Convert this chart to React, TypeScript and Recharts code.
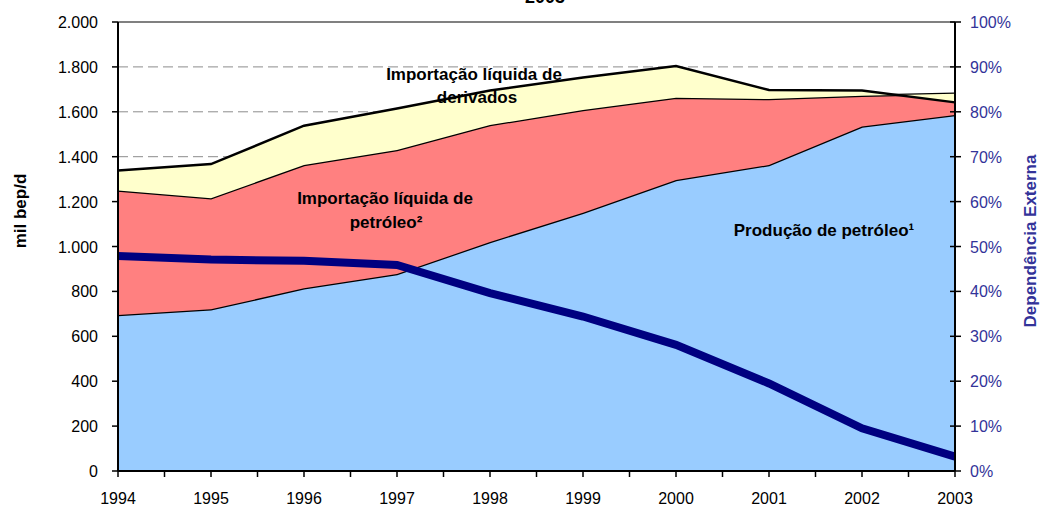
import React from 'react'
import { ComposedChart, Area, Line, XAxis, YAxis, CartesianGrid, ReferenceLine } from 'recharts'

// mil bep/d
const anos = [1994, 1995, 1996, 1997, 1998, 1999, 2000, 2001, 2002, 2003]
const producao = [695, 720, 814, 877, 1020, 1150, 1296, 1363, 1534, 1586]
const importPetroleo = [554, 495, 549, 553, 521, 458, 367, 294, 138, 94]
const importDerivados = [89, 152, 175, 185, 154, 145, 141, 40, 23, -38]
// % dependência externa
const dependencia = [47.9, 47.1, 46.8, 45.9, 39.6, 34.4, 28.1, 19.5, 9.5, 3.2]

const ticksEsq = [0, 200, 400, 600, 800, 1000, 1200, 1400, 1600, 1800, 2000]
const ticksDir = [0, 10, 20, 30, 40, 50, 60, 70, 80, 90, 100]
const ticksX = [1994, 1994.5, 1995, 1995.5, 1996, 1996.5, 1997, 1997.5, 1998, 1998.5, 1999, 1999.5, 2000, 2000.5, 2001, 2001.5, 2002, 2002.5, 2003]

const FONTE = '"Liberation Sans", Arial, sans-serif'
const AZUL_EIXO = '#333399'

const fmtMil = (v: number) => (v >= 1000 ? `${Math.floor(v / 1000)}.${String(v % 1000).padStart(3, '0')}` : String(v))

const data = anos.map((ano, i) => ({
  ano,
  producao: producao[i],
  petroleo: importPetroleo[i],
  derivados: importDerivados[i],
  dep: dependencia[i],
}))

const TickEsq = ({ x, y, payload }: any) => (
  <g>
    <line x1={x - 6} x2={x} y1={y} y2={y} stroke="#000" strokeWidth={1.5} />
    <text x={x - 20} y={y + 6} textAnchor="end" fontSize={16} fontFamily={FONTE} fill="#000">
      {fmtMil(payload.value)}
    </text>
  </g>
)

const TickDir = ({ x, y, payload }: any) => (
  <g>
    <line x1={x - 5} x2={x + 6} y1={y} y2={y} stroke="#000" strokeWidth={1.5} />
    <text x={x + 15} y={y + 6} textAnchor="start" fontSize={16} fontFamily={FONTE} fill={AZUL_EIXO}>
      {payload.value}%
    </text>
  </g>
)

const TickX = ({ x, y, payload }: any) => (
  <g>
    <line x1={x} x2={x} y1={y} y2={y + 6} stroke="#000" strokeWidth={1.5} />
    {Number.isInteger(payload.value) && (
      <text x={x} y={y + 33} textAnchor="middle" fontSize={16} fontFamily={FONTE} fill="#000">
        {payload.value}
      </text>
    )}
  </g>
)

export default function App() {
  return (
    <div style={{ position: 'fixed', left: 0, top: 0, width: 1043, height: 507, background: '#fff' }}>
      <ComposedChart width={1043} height={507} data={data} margin={{ top: 22, right: 28, left: 58, bottom: 6 }}>
        <CartesianGrid yAxisId="esq" vertical={false} stroke="#8c8c8c" strokeDasharray="10 5" />
        <XAxis
          dataKey="ano"
          type="number"
          domain={[1994, 2003]}
          ticks={ticksX}
          interval={0}
          height={30}
          tickSize={0}
          tickMargin={0}
          tick={<TickX />}
          axisLine={{ stroke: '#000', strokeWidth: 2 }}
          tickLine={false}
        />
        <YAxis
          yAxisId="esq"
          domain={[0, 2000]}
          ticks={ticksEsq}
          interval={0}
          width={60}
          tickSize={0}
          tickMargin={0}
          tick={<TickEsq />}
          axisLine={{ stroke: '#000', strokeWidth: 2 }}
          tickLine={false}
        />
        <YAxis
          yAxisId="dir"
          orientation="right"
          domain={[0, 100]}
          ticks={ticksDir}
          interval={0}
          width={60}
          tickSize={0}
          tickMargin={0}
          tick={<TickDir />}
          axisLine={{ stroke: '#000', strokeWidth: 2 }}
          tickLine={false}
        />
        <ReferenceLine yAxisId="esq" y={2000} stroke="#808080" strokeWidth={2} />
        <Area yAxisId="esq" type="linear" dataKey="producao" stackId="a" fill="#99CCFF" fillOpacity={1} stroke="#000" strokeWidth={2.5} isAnimationActive={false} />
        <Area yAxisId="esq" type="linear" dataKey="petroleo" stackId="a" fill="#FF8080" fillOpacity={1} stroke="#000" strokeWidth={2.5} isAnimationActive={false} />
        <Area yAxisId="esq" type="linear" dataKey="derivados" stackId="a" fill="#FFFFCC" fillOpacity={1} stroke="#000" strokeWidth={2.5} isAnimationActive={false} />
        <Line yAxisId="dir" type="linear" dataKey="dep" stroke="#000080" strokeWidth={8} dot={false} activeDot={false} isAnimationActive={false} />
      </ComposedChart>

      <svg width={1043} height={507} style={{ position: 'absolute', left: 0, top: 0, pointerEvents: 'none' }} fontFamily={FONTE}>
        <text x={545} y={3} textAnchor="middle" fontSize={18} fontWeight="bold">2003</text>
        <text transform="translate(26,211) rotate(-90)" textAnchor="middle" fontSize={17} fontWeight="bold">mil bep/d</text>
        <text transform="translate(1036,241) rotate(-90)" textAnchor="middle" fontSize={17} fontWeight="bold" fill={AZUL_EIXO}>Dependência Externa</text>
        <g fontSize={17} fontWeight="bold" textAnchor="middle">
          <text x={474} y={80}>Importação líquida de</text>
          <text x={477} y={103}>derivados</text>
          <text x={385} y={204}>Importação líquida de</text>
          <text x={386} y={228}>petróleo²</text>
          <text x={824} y={236}>Produção de petróleo¹</text>
        </g>
      </svg>
    </div>
  )
}
